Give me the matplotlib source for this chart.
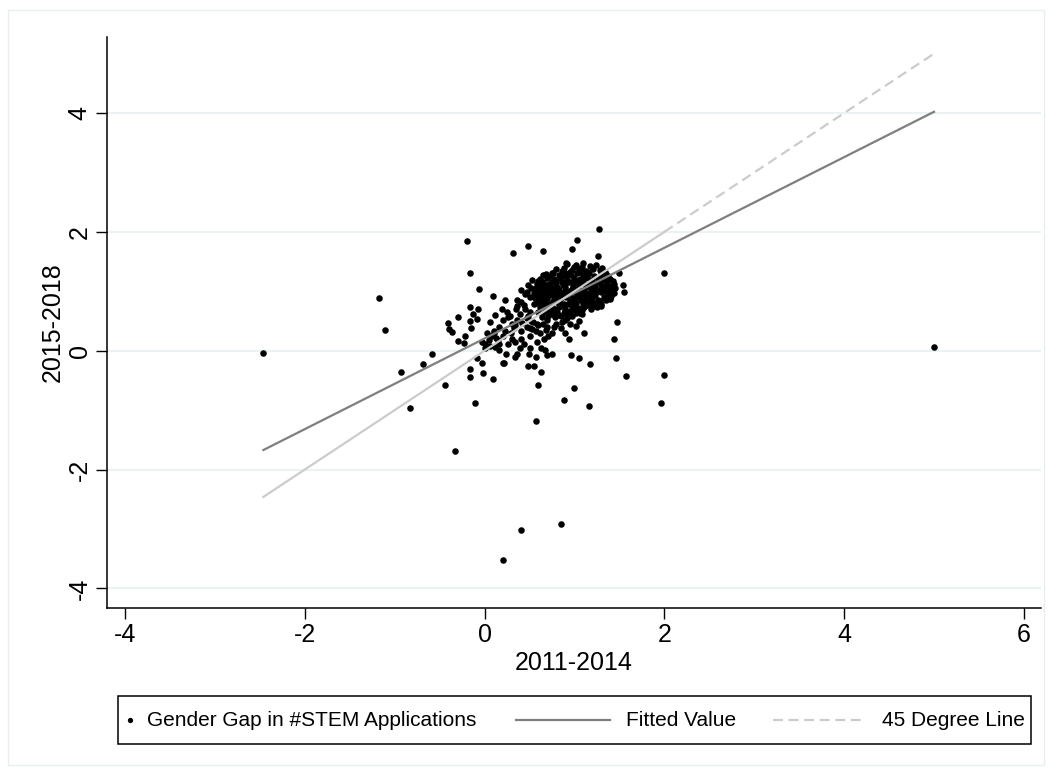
import numpy as np
import matplotlib
matplotlib.use("Agg")
import matplotlib.pyplot as plt
from matplotlib.lines import Line2D
from matplotlib.patches import Rectangle

plt.rcParams['font.family'] = ['Liberation Sans', 'DejaVu Sans']

# gender gap in #STEM applications, (2011-2014, 2015-2018)
outlier_pts = [(-2.46, -0.04), (5.00, 0.07), (-1.17, 0.88), (-1.11, 0.35),
               (-0.93, -0.35), (-0.69, -0.23), (-0.58, -0.05), (-0.83, -0.97),
               (-0.44, -0.57), (-0.33, -1.69), (-0.11, -0.88), (0.21, -3.52),
               (0.40, -3.02), (0.85, -2.91), (0.57, -1.18), (0.60, -0.58),
               (0.88, -0.83), (1.00, -0.63), (1.16, -0.93), (2.00, 1.31),
               (2.00, -0.41), (1.96, -0.88), (1.57, -0.42), (1.46, -0.12),
               (1.44, 0.19), (1.47, 0.48)]

spread_pts = [(1.27, 2.05), (-0.20, 1.85), (1.03, 1.86), (0.48, 1.77), (0.65, 1.68),
              (0.32, 1.64), (0.97, 1.71), (1.26, 1.59), (0.91, 1.47), (-0.16, 1.30),
              (-0.06, 1.04), (0.09, 0.92), (-0.16, 0.74), (-0.07, 0.70), (-0.13, 0.62),
              (-0.29, 0.56), (-0.08, 0.54), (-0.16, 0.50), (-0.41, 0.47), (-0.40, 0.37),
              (-0.36, 0.31), (-0.15, 0.38), (-0.29, 0.16), (-0.22, 0.24), (-0.23, 0.13),
              (-0.16, -0.31), (-0.16, -0.44), (-0.02, -0.38), (0.09, -0.47), (-0.03, -0.21),
              (-0.08, -0.13), (0.20, -0.21), (0.22, -0.20), (0.48, -0.26), (0.55, -0.26),
              (0.63, -0.36), (1.17, -0.22), (1.05, -0.12), (0.96, -0.08), (1.54, 1.10),
              (1.55, 0.99), (1.50, 1.31), (1.43, 1.17), (1.36, 1.10), (1.39, 0.89),
              (1.11, 0.30), (0.94, 0.20), (0.69, -0.08), (0.49, -0.05), (0.36, -0.05),
              (0.39, 0.05), (0.16, 0.02), (0.34, 0.15), (0.41, 0.19), (0.51, 0.25),
              (0.57, 0.33), (0.66, 0.20), (0.67, 0.01), (0.16, 0.12), (0.13, 0.21),
              (0.07, 0.24), (0.01, 0.11), (-0.03, 0.15), (0.03, 0.29), (0.11, 0.29),
              (0.23, 0.33), (0.29, 0.29), (0.34, 0.43), (0.26, 0.57), (0.25, 0.65),
              (0.23, 0.85), (0.36, 0.86), (0.36, 0.76), (0.44, 0.77), (0.47, 0.99),
              (0.41, 1.02), (0.53, 1.19), (0.59, 1.10), (0.65, 1.27), (0.76, 1.31),
              (0.19, 0.71), (0.06, 0.48), (0.12, 0.60), (0.47, 0.55), (0.54, 0.48),
              (0.59, 0.43), (0.50, 0.38), (0.70, 0.40), (0.77, 0.40), (0.86, 0.48),
              (1.02, 0.41), (1.08, 0.62), (1.20, 0.77), (1.29, 0.76), (1.37, 1.02),
              (0.30, 0.45), (0.36, 0.52), (0.42, 0.47), (0.48, 0.58), (0.52, 0.50),
              (0.39, 0.62), (0.45, 0.70), (0.51, 0.66), (0.55, 0.78), (0.33, 0.38),
              (0.41, 0.33), (0.47, 0.40), (0.53, 0.36), (0.58, 0.45), (0.28, 0.58),
              (0.20, 0.52), (0.16, 0.40), (0.10, 0.33), (0.05, 0.18), (0.00, 0.05),
              (0.06, 0.08), (0.12, 0.06), (0.26, 0.12), (0.30, 0.20), (0.44, 0.12),
              (0.50, 0.05), (0.58, 0.15), (0.62, 0.30), (0.68, 0.35), (0.75, 0.30),
              (0.80, 0.45), (0.85, 0.38), (0.90, 0.30), (0.95, 0.45), (1.05, 0.50),
              (0.65, 0.45), (0.71, 0.25), (0.63, 0.05), (0.40, 0.82), (0.50, 0.90),
              (0.35, 0.70), (0.60, 0.95), (0.45, 0.95), (0.52, 1.05), (0.48, 1.10),
              (0.15, 0.18), (0.20, 0.25), (0.24, -0.05), (0.34, -0.10), (0.57, -0.10),
              (0.75, -0.05)]

core_pts = [(0.92, 1.46), (1.02, 1.44), (1.10, 1.47), (1.17, 1.42), (1.24, 1.45),
            (0.80, 1.37), (0.88, 1.39), (0.97, 1.36), (1.05, 1.38), (1.13, 1.35),
            (1.21, 1.37), (1.28, 1.36), (1.34, 1.33), (0.68, 1.29), (0.75, 1.31),
            (0.83, 1.28), (0.90, 1.31), (0.96, 1.27), (1.03, 1.30), (1.09, 1.28),
            (1.16, 1.31), (1.22, 1.26), (1.30, 1.29), (1.37, 1.25), (0.62, 1.21),
            (0.70, 1.23), (0.77, 1.20), (0.85, 1.22), (0.92, 1.19), (0.99, 1.23),
            (1.06, 1.20), (1.12, 1.22), (1.19, 1.18), (1.26, 1.21), (1.33, 1.19),
            (1.40, 1.20), (0.58, 1.13), (0.65, 1.15), (0.72, 1.12), (0.80, 1.14),
            (0.87, 1.11), (0.94, 1.15), (1.01, 1.12), (1.08, 1.14), (1.15, 1.10),
            (1.22, 1.13), (1.29, 1.11), (1.36, 1.14), (1.42, 1.09), (0.57, 1.05),
            (0.63, 1.07), (0.70, 1.04), (0.76, 1.06), (0.83, 1.03), (0.90, 1.07),
            (0.97, 1.04), (1.04, 1.06), (1.11, 1.03), (1.18, 1.05), (1.25, 1.02),
            (1.32, 1.06), (1.39, 1.03), (1.45, 1.05), (0.55, 0.97), (0.61, 0.99),
            (0.68, 0.96), (0.74, 0.98), (0.81, 0.95), (0.88, 0.99), (0.95, 0.96),
            (1.02, 0.98), (1.09, 0.95), (1.16, 0.97), (1.23, 0.94), (1.30, 0.98),
            (1.37, 0.95), (1.44, 0.97), (0.56, 0.89), (0.63, 0.91), (0.70, 0.88),
            (0.77, 0.90), (0.84, 0.87), (0.91, 0.91), (0.98, 0.88), (1.05, 0.90),
            (1.12, 0.87), (1.19, 0.89), (1.26, 0.86), (1.33, 0.90), (1.40, 0.87),
            (0.60, 0.81), (0.67, 0.83), (0.74, 0.80), (0.81, 0.82), (0.88, 0.79),
            (0.95, 0.83), (1.02, 0.80), (1.09, 0.82), (1.16, 0.79), (1.23, 0.81),
            (1.30, 0.78), (0.62, 0.73), (0.69, 0.75), (0.76, 0.72), (0.83, 0.74),
            (0.90, 0.71), (0.97, 0.75), (1.04, 0.72), (1.11, 0.74), (1.18, 0.70),
            (0.60, 0.65), (0.67, 0.67), (0.74, 0.64), (0.81, 0.66), (0.88, 0.63),
            (0.95, 0.67), (1.02, 0.64), (0.64, 0.57), (0.71, 0.59), (0.78, 0.56),
            (0.85, 0.58), (0.92, 0.55), (0.60, 1.18), (0.73, 1.26), (0.86, 1.34),
            (0.99, 1.41), (1.07, 1.33), (1.20, 1.40), (0.66, 1.10), (0.79, 1.17),
            (0.91, 1.25), (1.04, 1.17), (1.14, 1.25), (1.27, 1.16), (1.35, 1.29),
            (0.59, 1.02), (0.72, 1.09), (0.86, 1.16), (0.98, 1.09), (1.10, 1.16),
            (1.23, 1.08), (1.34, 1.01), (0.64, 0.94), (0.78, 1.01), (0.92, 0.93),
            (1.06, 1.01), (1.19, 0.92), (1.41, 0.92), (0.58, 0.85), (0.72, 0.93),
            (0.85, 0.95), (1.00, 0.85), (1.14, 0.93), (1.28, 0.83), (0.65, 0.78),
            (0.79, 0.86), (0.93, 0.78), (1.07, 0.85), (1.21, 0.76), (0.71, 0.70),
            (0.86, 0.77), (0.99, 0.70), (1.14, 0.77), (0.64, 0.62), (0.79, 0.69),
            (0.93, 0.62), (1.08, 0.68), (0.75, 0.61), (0.89, 0.52), (0.69, 0.52),
            (0.95, 1.32), (1.08, 1.41), (1.31, 1.40), (0.84, 1.25), (1.00, 1.19),
            (1.17, 1.19), (1.30, 1.23), (0.75, 1.15), (0.89, 1.13), (1.05, 1.10),
            (1.20, 1.02), (1.44, 1.13), (0.66, 1.01), (0.81, 1.08), (0.94, 1.01),
            (1.13, 1.07), (1.27, 1.00), (0.70, 0.92), (0.86, 0.91), (1.03, 0.94),
            (1.17, 0.86), (1.35, 0.85), (0.62, 0.86), (0.76, 0.84), (0.96, 0.79),
            (1.10, 0.78), (1.25, 0.73), (0.68, 0.79), (0.83, 0.78), (1.00, 0.73),
            (0.73, 0.68), (0.90, 0.67), (1.06, 0.63), (0.82, 0.60), (0.97, 0.58)]

# linear fit
fit_intercept = 0.206
fit_slope = 0.763

x_ticks = [-4, -2, 0, 2, 4, 6]
y_ticks = [-4, -2, 0, 2, 4]

pts = np.array(outlier_pts + spread_pts + core_pts)
xs, ys = pts[:, 0], pts[:, 1]

W, H = 1052, 775
fig = plt.figure(figsize=(W / 100, H / 100), dpi=100)
ax = fig.add_axes([107 / W, 1 - 608 / H, (1041 - 107) / W, (608 - 37) / H])

ax.plot(xs, ys, 'o', color='black', ms=4.7, mec='none', zorder=3)

xfit = np.array([xs.min(), xs.max()])
ax.plot(xfit, fit_intercept + fit_slope * xfit, color='#7f7f7f', lw=1.6, zorder=4)

# 45 degree line: looks solid across the dense part, dashed past it
x_dense = spread_pts + core_pts + outlier_pts[2:]
x_edge = max(p[0] for p in x_dense)
ax.plot([xs.min(), x_edge], [xs.min(), x_edge], color='#cccccc', lw=1.6, zorder=5)
ax.plot([x_edge, xs.max()], [x_edge, xs.max()], color='#cccccc', lw=1.6,
        dashes=(4.5, 2.5), zorder=5)

ax.set_xlim(-4.2, 6.19)
ax.set_ylim(-4.33, 5.28)
ax.set_xticks(x_ticks)
ax.set_yticks(y_ticks)
ax.set_xticklabels([str(t) for t in x_ticks])
ax.set_yticklabels([str(t) for t in y_ticks], rotation=90, va='center')
ax.tick_params(direction='out', length=8, width=1, labelsize=18, pad=3)
for s in ['top', 'right']:
    ax.spines[s].set_visible(False)
for s in ['left', 'bottom']:
    ax.spines[s].set_linewidth(1.1)
ax.grid(axis='y', color='#eaf2f3', lw=1.5)
ax.set_axisbelow(True)
ax.set_xlabel('2011-2014', fontsize=18, labelpad=3)
ax.set_ylabel('2015-2018', fontsize=18, labelpad=2)


def fx(px):
    return px / W


def fy(py):
    return 1 - py / H


# legend, laid out like the Stata one
fig.add_artist(Rectangle((fx(118), fy(744)), fx(1031) - fx(118), fy(696) - fy(744),
                         fill=False, ec='black', lw=1.1, transform=fig.transFigure))
ly = fy(720)
fig.add_artist(Line2D([fx(130)], [ly], marker='o', ms=3.8, color='black', mec='none',
                      transform=fig.transFigure))
fig.text(fx(147), ly, 'Gender Gap in #STEM Applications', fontsize=15, va='center')
fig.add_artist(Line2D([fx(516), fx(610)], [ly, ly], color='#7f7f7f', lw=1.6,
                      transform=fig.transFigure))
fig.text(fx(626), ly, 'Fitted Value', fontsize=15, va='center')
fig.add_artist(Line2D([fx(773), fx(866)], [ly, ly], color='#cccccc', lw=1.6,
                      dashes=(4.5, 2.5), transform=fig.transFigure))
fig.text(fx(882), ly, '45 Degree Line', fontsize=15, va='center')

# faint outer frame
fig.add_artist(Rectangle((fx(8), fy(765)), fx(1044) - fx(8), fy(10) - fy(765),
                         fill=False, ec='#e6eef0', lw=1, transform=fig.transFigure))

fig.savefig('out.png', dpi=100)
